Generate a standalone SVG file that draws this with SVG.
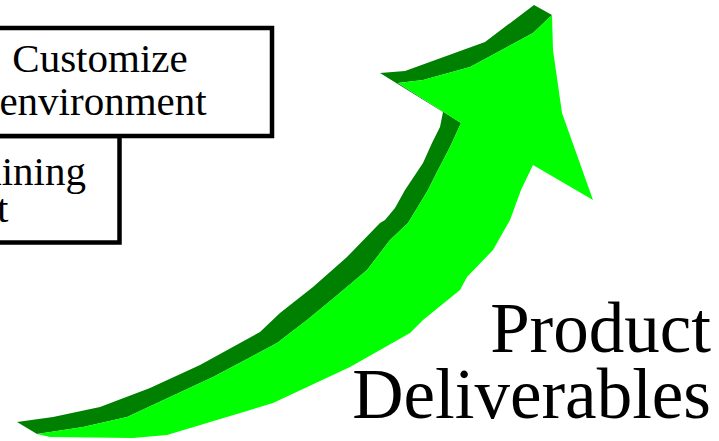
<svg xmlns="http://www.w3.org/2000/svg" width="719" height="441" viewBox="0 0 719 441">
<style>
.box{fill:#fff;stroke:#000;stroke-width:4.5}
.bt{font-family:"Liberation Serif","Times New Roman",serif;font-size:41px;fill:#000}
.big{font-family:"Liberation Serif","Times New Roman",serif;font-size:71px;fill:#000;text-anchor:end}
.dark{fill:#008000}
.light{fill:#00ff00}
</style>
<rect width="719" height="441" fill="#fff"/>
<g id="training">
<rect class="box" x="-60" y="136" width="179.5" height="106.5"/>
<text class="bt" x="86" y="185" text-anchor="end">aining</text>
<text class="bt" x="-3" y="222">t</text>
</g>
<g id="customize">
<rect class="box" x="-80" y="28" width="352" height="108"/>
<text class="bt" x="100" y="72" text-anchor="middle">Customize</text>
<text class="bt" x="103" y="115" text-anchor="middle">environment</text>
</g>
<g id="arrow">
<polygon class="dark" points="552,15 534,5 485,42 405,71 380,73 443,112 440,127 432,143 423,163 405,190 395,208 385,220 380,223 347,257 313,287 280,313 260,332 200,365 150,388 100,407 53,417 17,422 37,434 83,427 127,417 213,377 277,343 307,320 335,297 367,270 390,240 408,223 428,190 438,170 450,147 461,123 398,83 423,80 470,67 533,33"/>
<polygon class="light" points="552,15 553,50 562,113 593,200 533,165 521,190 510,220 493,250 467,277 460,290 423,320 410,333 350,367 273,403 167,435 133,438 50,437 37,434 83,427 127,417 213,377 277,343 307,320 335,297 367,270 390,240 408,223 428,190 438,170 450,147 461,123 398,83 423,80 470,67 533,33"/>
</g>
<g id="label">
<text class="big" x="711" y="352">Product</text>
<text class="big" x="711" y="418">Deliverables</text>
</g>
</svg>
